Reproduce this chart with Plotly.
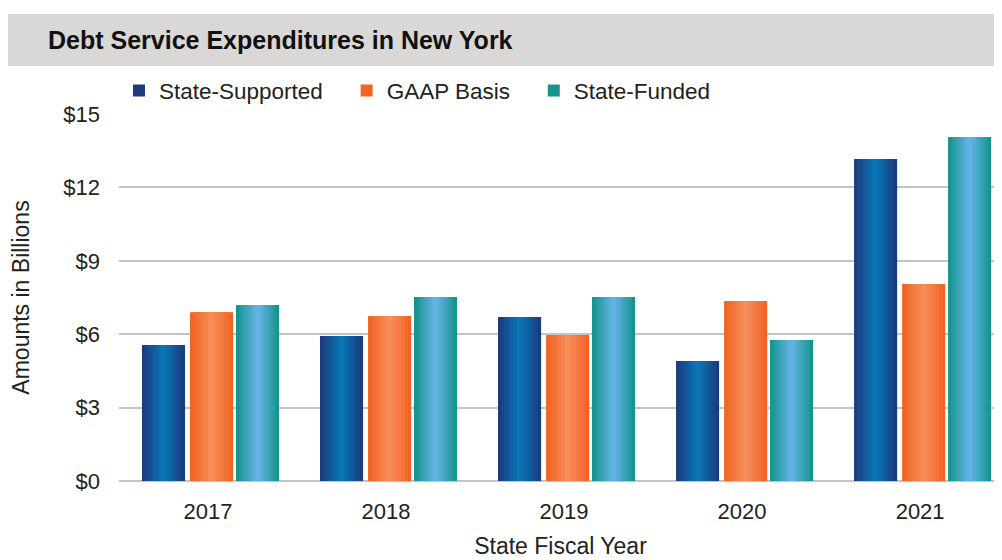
import plotly.graph_objects as go

years = ["2017", "2018", "2019", "2020", "2021"]
state_supported = [5.56, 5.93, 6.70, 4.90, 13.16]
gaap_basis = [6.90, 6.74, 5.97, 7.36, 8.05]
state_funded = [7.19, 7.52, 7.52, 5.76, 14.06]

PAD = "\u00a0" * 3
series = [
    ("State-Supported" + PAD, state_supported, "#1b3d80", "#0a74b5", -0.371),
    ("GAAP Basis" + PAD, gaap_basis, "#f06424", "#f68c58", -0.101),
    ("State-Funded", state_funded, "#16958f", "#62b2e2", 0.157),
]

BAR_W = 0.242
STRIPS = 7


def mix(c1, c2, t):
    a = [int(c1[i:i + 2], 16) for i in (1, 3, 5)]
    b = [int(c2[i:i + 2], 16) for i in (1, 3, 5)]
    return "#" + "".join("%02x" % round(a[i] + (b[i] - a[i]) * t) for i in range(3))


fig = go.Figure()

for name, values, edge, center, off in series:
    # stacked narrower strips give a cylinder-like shading
    for k in range(STRIPS):
        w = BAR_W * (1 - k / STRIPS)
        fig.add_trace(go.Bar(
            x=years,
            y=values,
            name=name,
            width=w,
            offset=off + (BAR_W - w) / 2,
            marker=dict(color=mix(edge, center, k / (STRIPS - 1)),
                        line=dict(width=0)),
            showlegend=(k == 0),
            legendgroup=name,
            hoverinfo="skip" if k else None,
        ))

# page is drawn with an 8px body margin, so margins are shifted by 8
fig.update_layout(
    template="plotly_white",
    width=1002,
    height=560,
    barmode="overlay",
    margin=dict(l=111, r=8, t=106, b=87),
    font=dict(family="Liberation Sans, Arial, sans-serif", color="#222222", size=22),
    legend=dict(
        orientation="h",
        x=0.0,
        y=1.0627,
        xanchor="left",
        yanchor="middle",
        font=dict(size=22.5),
        traceorder="normal",
    ),
    plot_bgcolor="white",
    paper_bgcolor="white",
    shapes=[dict(
        type="rect",
        xref="paper",
        yref="paper",
        x0=-0.1257,
        x1=1.0,
        y0=1.1308,
        y1=1.2725,
        fillcolor="#d9d8d6",
        line=dict(width=0),
        layer="below",
    )],
    annotations=[dict(
        text="<b>Debt Service Expenditures in New York</b>",
        xref="paper",
        yref="paper",
        x=-0.083,
        y=1.2016,
        xanchor="left",
        yanchor="middle",
        showarrow=False,
        font=dict(size=25, color="#111111"),
    )],
)

fig.update_xaxes(
    type="category",
    range=[-0.5, 4.46],
    automargin=False,
    showgrid=False,
    showline=False,
    ticks="",
    tickfont=dict(size=22),
    ticklabelstandoff=15,
    title=dict(text="State Fiscal Year", font=dict(size=23), standoff=14),
)

fig.update_yaxes(
    range=[0, 15],
    dtick=3,
    tickprefix="$",
    automargin=False,
    showgrid=True,
    gridcolor="#c4c4c4",
    gridwidth=2,
    zeroline=True,
    zerolinecolor="#c4c4c4",
    zerolinewidth=2,
    tickfont=dict(size=22),
    ticklabelstandoff=18,
    title=dict(text="Amounts in Billions", font=dict(size=23), standoff=33),
)

fig.write_html("out.html")
